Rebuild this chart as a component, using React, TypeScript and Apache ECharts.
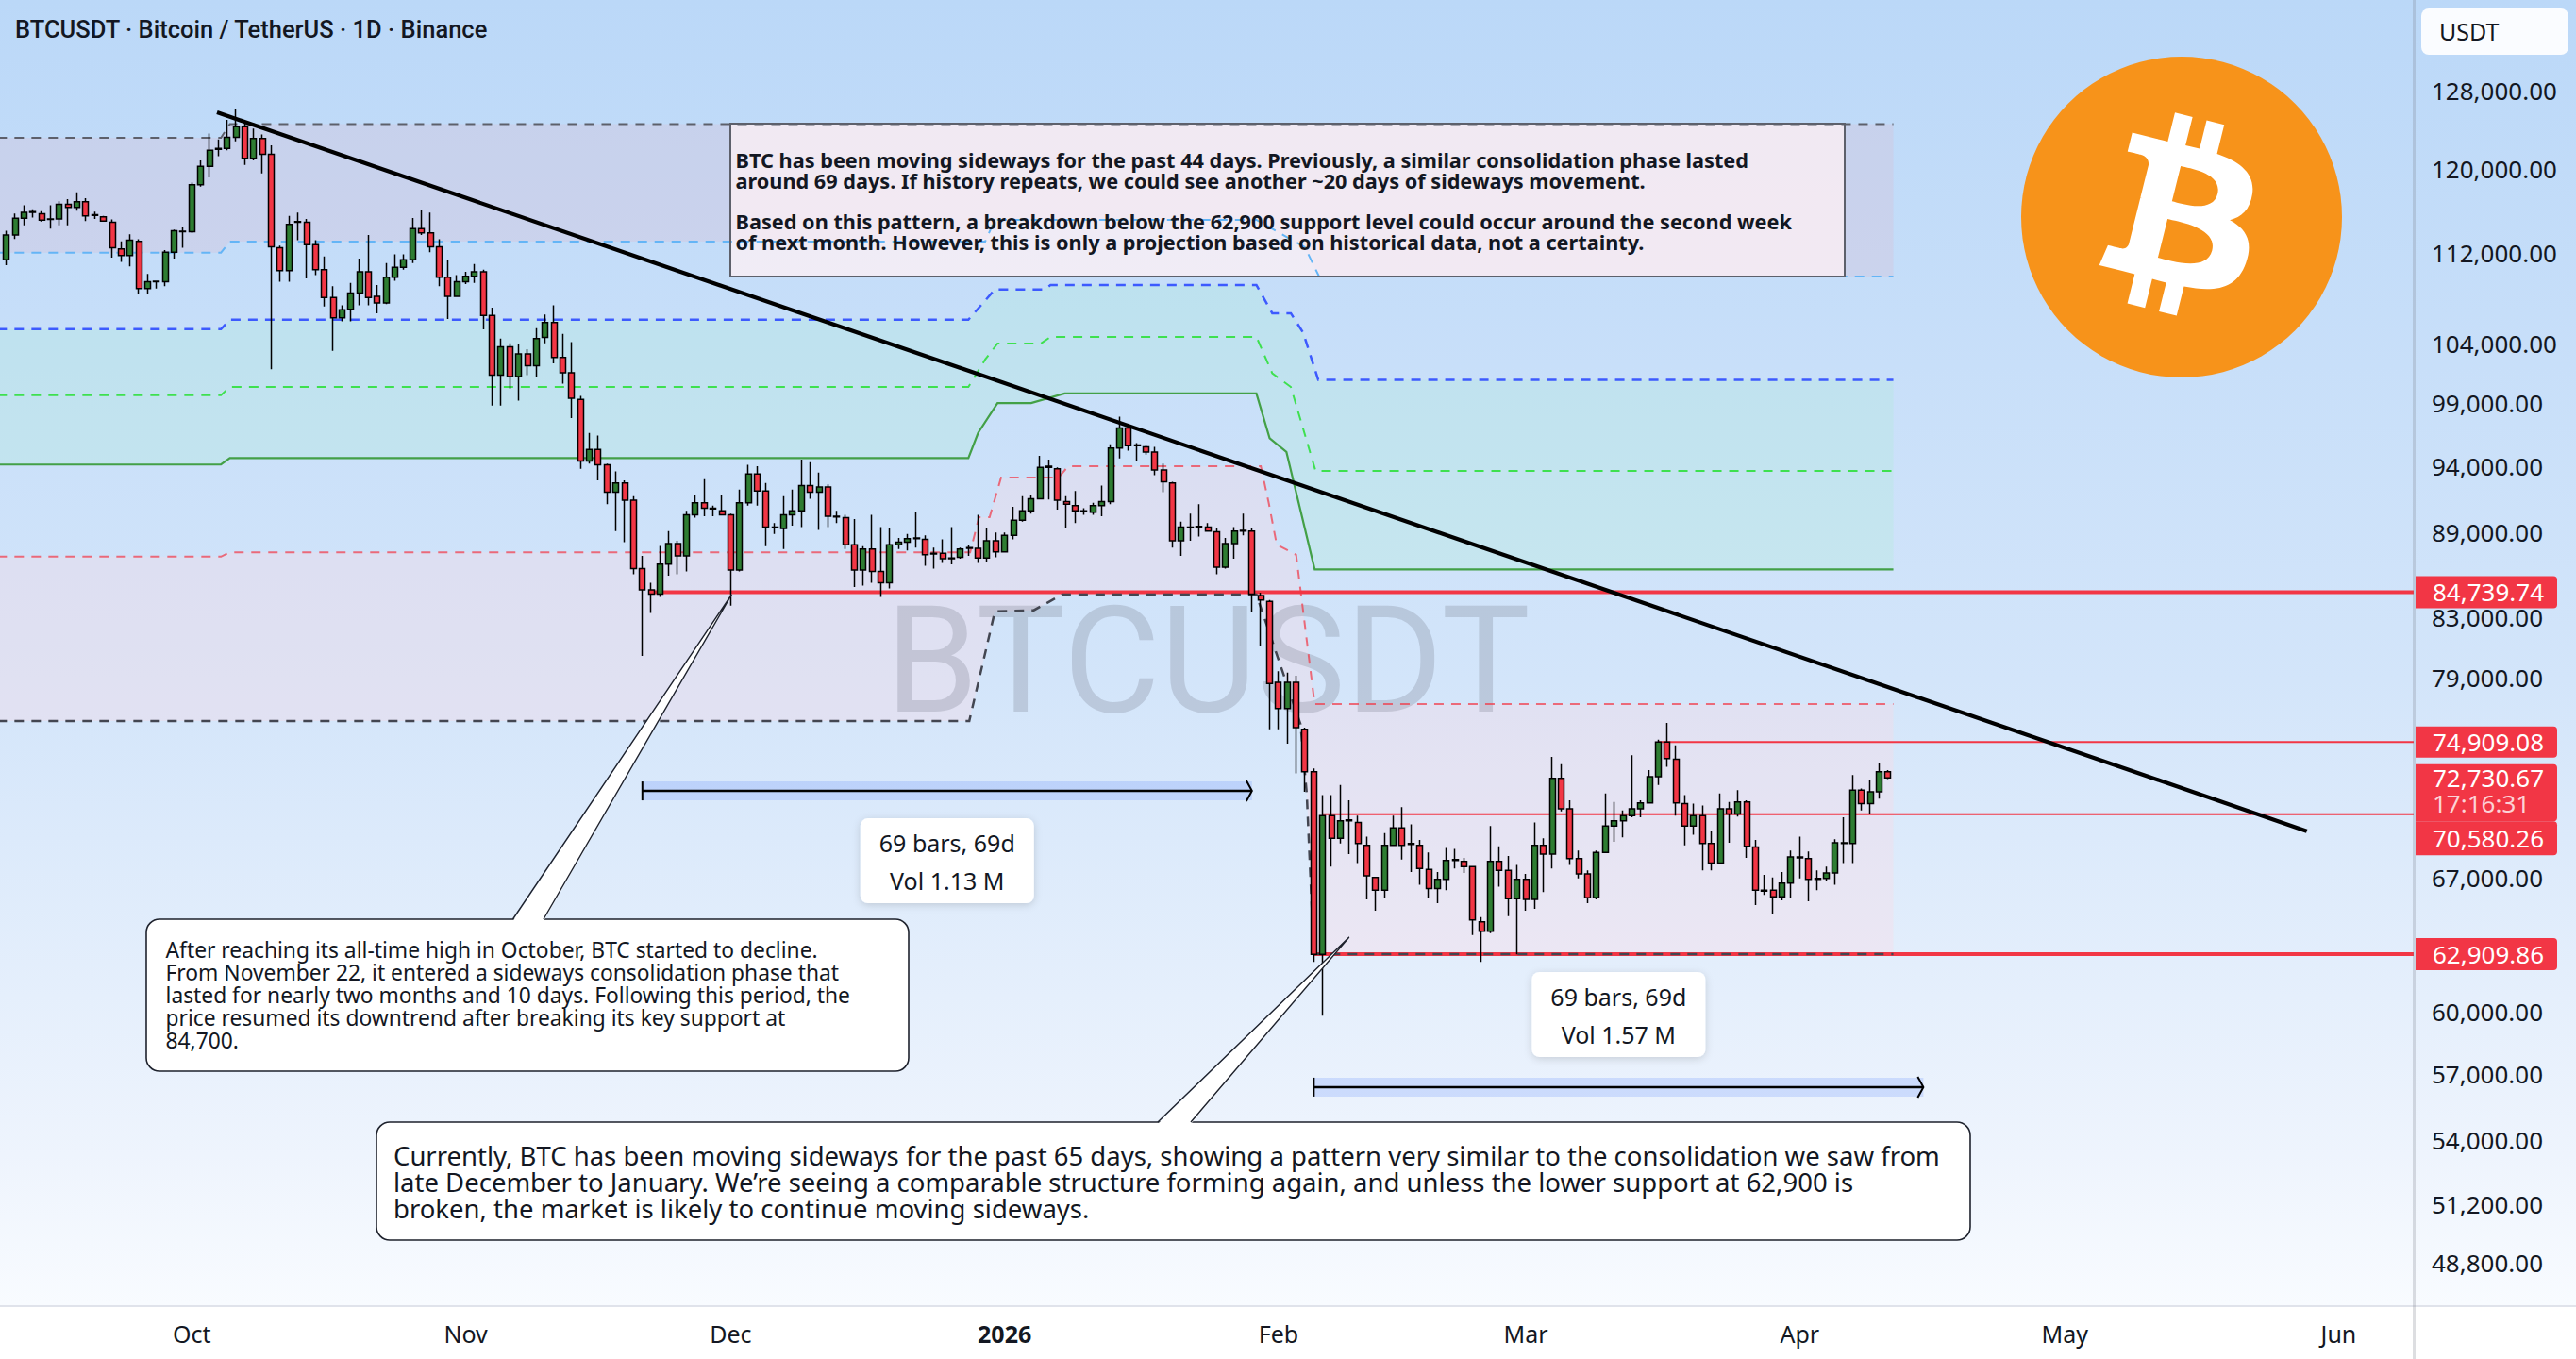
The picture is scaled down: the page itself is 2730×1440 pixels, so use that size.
import React, { useEffect, useRef } from 'react';
import * as echarts from 'echarts';

const W = 2730;
const H = 1440;

// ---------------- data ----------------
const dayCount = 273; // 2025-09-10 .. 2026-06-09
const monthNames = ['Jan', 'Feb', 'Mar', 'Apr', 'May', 'Jun', 'Jul', 'Aug', 'Sep', 'Oct', 'Nov', 'Dec'];
const categories: string[] = Array.from({ length: dayCount }, (_, i) =>
  new Date(Date.UTC(2025, 8, 10 + i)).toISOString().slice(0, 10)
);

// daily candles in thousands of USDT: [open, close, low, high]
const candles: number[][] = [
  [111.4, 113.7, 110.9, 114.1], [113.7, 115.28, 113.33, 115.72], [115.28, 115.83, 114.6, 116.5], [115.83, 115.9, 115.35, 116.13],
  [115.7, 115.1, 114.95, 115.95], [115.15, 115.2, 114.3, 116.5], [115.2, 116.6, 114.6, 116.9], [116.6, 116.3, 114.6, 117.1],
  [116.3, 116.85, 116.0, 117.75], [116.85, 115.5, 115.0, 117.2], [115.55, 115.6, 115.2, 115.9], [115.4, 115.0, 114.95, 115.5],
  [114.9, 112.5, 111.6, 115.15], [112.4, 111.8, 111.2, 113.1], [111.8, 113.2, 110.8, 113.75], [113.1, 108.8, 108.3, 113.3],
  [108.8, 109.4, 108.3, 110.1], [109.4, 109.45, 108.8, 109.5], [109.4, 112.1, 109.0, 112.3], [112.1, 114.1, 111.5, 114.2],
  [114.0, 114.05, 112.5, 114.5], [114.0, 118.5, 113.9, 118.7], [118.5, 120.3, 118.3, 120.9], [120.3, 121.9, 119.2, 123.6],
  [122.0, 122.1, 121.3, 123.0], [122.1, 123.2, 121.9, 125.0], [123.2, 124.3, 122.8, 126.1], [124.3, 121.1, 120.45, 124.8],
  [121.1, 123.1, 120.9, 124.1], [123.1, 121.5, 119.6, 123.5], [121.5, 112.6, 101.8, 122.4], [112.5, 110.4, 109.4, 112.7],
  [110.4, 114.7, 109.4, 115.5], [114.9, 114.95, 113.2, 115.8], [114.9, 112.8, 109.7, 115.2], [112.8, 110.5, 110.0, 113.2],
  [110.5, 108.0, 107.2, 111.7], [108.0, 106.2, 103.35, 109.0], [106.2, 106.9, 105.9, 107.3], [106.95, 108.4, 105.9, 109.3],
  [108.4, 110.3, 107.3, 111.5], [110.3, 108.0, 107.3, 113.7], [108.1, 107.5, 106.6, 109.1], [107.5, 109.8, 107.4, 111.1],
  [109.8, 110.7, 109.5, 111.9], [110.7, 111.4, 110.5, 111.9], [111.4, 114.3, 111.1, 115.3], [114.3, 113.9, 113.7, 116.1],
  [113.9, 112.6, 112.1, 115.8], [112.6, 109.8, 109.0, 113.3], [109.8, 108.1, 106.1, 111.4], [108.1, 109.4, 108.1, 110.0],
  [109.4, 109.9, 109.2, 110.3], [109.9, 110.3, 109.3, 111.0], [110.3, 106.4, 105.2, 110.5], [106.4, 101.3, 98.8, 107.1],
  [101.3, 103.7, 98.8, 104.4], [103.7, 101.2, 100.2, 104.0], [101.2, 103.1, 99.2, 103.9], [103.1, 102.1, 101.3, 103.5],
  [102.1, 104.4, 101.2, 105.3], [104.5, 105.8, 104.0, 106.5], [105.8, 102.8, 102.3, 107.3], [102.8, 101.5, 100.6, 104.8],
  [101.5, 99.4, 97.8, 104.1], [99.3, 94.4, 93.8, 99.6], [94.4, 95.3, 94.2, 96.6], [95.3, 94.1, 92.9, 96.4],
  [94.1, 92.0, 91.1, 94.2], [92.0, 92.7, 89.1, 93.6], [92.7, 91.4, 88.3, 92.9], [91.4, 86.4, 86.0, 91.7],
  [86.4, 84.9, 80.4, 87.3], [84.9, 84.6, 83.3, 85.4], [84.6, 86.72, 84.4, 88.03], [86.72, 88.2, 85.9, 89.1],
  [88.2, 87.3, 86.0, 88.4], [87.3, 90.3, 86.2, 90.6], [90.3, 91.2, 90.1, 91.8], [91.2, 90.8, 90.2, 93.0],
  [90.8, 90.75, 90.2, 91.0], [90.6, 90.3, 90.25, 91.8], [90.3, 86.3, 83.8, 90.4], [86.3, 91.2, 86.2, 92.2],
  [91.2, 93.4, 91.0, 94.1], [93.4, 92.1, 91.0, 94.0], [92.1, 89.4, 88.0, 92.7], [89.4, 89.35, 88.9, 89.7],
  [89.3, 90.3, 87.8, 91.7], [90.3, 90.6, 89.5, 92.2], [90.6, 92.5, 89.4, 94.5], [92.5, 92.0, 91.5, 94.3],
  [92.0, 92.4, 89.2, 93.5], [92.4, 90.2, 89.4, 92.6], [90.2, 90.15, 89.7, 90.6], [90.1, 88.1, 87.8, 90.3],
  [88.1, 86.3, 85.1, 90.0], [86.3, 87.8, 85.2, 88.0], [87.8, 86.2, 85.4, 90.3], [86.2, 85.4, 84.4, 89.4],
  [85.4, 88.1, 85.0, 89.3], [88.1, 88.3, 87.8, 88.6], [88.3, 88.55, 87.7, 88.9], [88.55, 88.6, 87.9, 90.5],
  [88.5, 87.4, 86.6, 88.8], [87.45, 87.5, 86.4, 87.9], [87.5, 87.1, 86.8, 88.5], [87.1, 87.15, 86.7, 89.4],
  [87.2, 87.8, 87.1, 87.9], [87.85, 87.9, 87.3, 88.05], [87.85, 87.15, 86.8, 90.3], [87.15, 88.4, 86.9, 89.3],
  [88.4, 87.6, 87.2, 89.0], [87.6, 88.8, 87.55, 89.0], [88.8, 89.9, 88.5, 90.9], [89.9, 90.6, 89.8, 91.7],
  [90.6, 91.5, 90.4, 91.8], [91.5, 93.9, 91.5, 94.8], [93.9, 94.0, 91.45, 94.5], [93.8, 91.4, 90.7, 93.9],
  [91.3, 91.1, 89.3, 91.7], [91.0, 90.6, 89.7, 92.1], [90.6, 90.55, 90.3, 90.8], [90.5, 91.0, 90.3, 91.2],
  [91.0, 91.3, 90.2, 92.5], [91.3, 95.4, 91.1, 95.7], [95.4, 97.0, 94.6, 97.9], [97.0, 95.6, 95.2, 97.3],
  [95.6, 95.65, 94.4, 95.8], [95.5, 95.1, 94.9, 95.6], [95.1, 93.7, 93.3, 95.5], [93.7, 92.8, 92.0, 94.2],
  [92.7, 88.4, 87.9, 92.8], [88.4, 89.4, 87.3, 89.8], [89.35, 89.4, 88.4, 90.4], [89.4, 89.45, 88.7, 91.1],
  [89.4, 89.1, 89.05, 89.7], [89.05, 86.5, 86.0, 89.3], [86.5, 88.2, 86.4, 88.6], [88.2, 89.1, 87.1, 89.4],
  [89.1, 89.15, 88.8, 90.4], [89.1, 84.6, 83.4, 89.3], [84.5, 84.2, 81.1, 84.7], [84.1, 78.6, 75.7, 84.2],
  [78.67, 77.0, 75.7, 79.4], [77.0, 78.67, 74.8, 79.3], [78.67, 75.8, 73.0, 79.1], [75.7, 73.1, 71.9, 75.8],
  [73.1, 62.9, 62.5, 73.3], [62.9, 70.5, 59.8, 71.7], [70.5, 69.2, 67.6, 71.7], [69.2, 70.2, 68.9, 72.3],
  [70.2, 70.25, 68.3, 71.4], [70.1, 68.9, 67.8, 70.5], [68.8, 67.1, 65.8, 69.3], [67.0, 66.3, 65.2, 67.05],
  [66.3, 68.8, 65.9, 69.5], [68.8, 69.8, 68.8, 70.5], [69.8, 68.8, 68.0, 71.0], [68.85, 68.9, 67.3, 70.0],
  [68.8, 67.5, 66.6, 69.1], [67.45, 66.4, 65.9, 68.4], [66.4, 66.9, 65.6, 67.3], [66.9, 67.95, 66.3, 68.65],
  [67.95, 68.0, 67.5, 68.6], [67.9, 67.6, 67.25, 68.1], [67.6, 64.7, 63.9, 67.65], [64.6, 64.1, 62.5, 64.85],
  [64.1, 67.9, 64.0, 69.9], [67.9, 67.4, 66.5, 68.75], [67.4, 65.85, 64.9, 68.2], [65.85, 66.9, 62.9, 67.7],
  [66.9, 65.8, 65.2, 67.2], [65.8, 68.8, 65.3, 70.1], [68.8, 68.3, 66.2, 69.2], [68.3, 72.7, 67.5, 74.0],
  [72.7, 70.9, 70.75, 73.55], [70.9, 68.05, 67.7, 71.4], [68.05, 67.2, 66.95, 68.5], [67.2, 65.9, 65.6, 67.4],
  [65.9, 68.4, 65.8, 68.5], [68.4, 69.9, 68.4, 71.8], [69.9, 70.2, 69.0, 71.3], [70.2, 70.5, 69.25, 70.8],
  [70.5, 70.9, 70.4, 74.1], [70.9, 71.25, 70.4, 71.4], [71.25, 72.8, 71.2, 73.2], [72.8, 74.9, 72.3, 75.05],
  [74.9, 73.9, 73.4, 76.1], [73.85, 71.25, 70.5, 74.7], [71.2, 69.9, 68.8, 71.7], [69.9, 70.5, 69.4, 71.2],
  [70.5, 68.9, 67.4, 71.1], [68.9, 67.8, 67.4, 69.6], [67.8, 70.9, 67.8, 71.8], [70.9, 70.6, 68.95, 71.3],
  [70.6, 71.3, 70.45, 72.0], [71.3, 68.75, 68.1, 71.4], [68.7, 66.3, 65.5, 69.1], [66.3, 66.25, 66.05, 67.15],
  [66.3, 65.95, 65.0, 67.0], [65.95, 66.7, 65.75, 67.3], [66.7, 68.15, 65.9, 68.5], [68.1, 68.15, 66.95, 69.3],
  [68.05, 66.9, 65.7, 68.45], [66.9, 66.95, 66.3, 67.4], [66.95, 67.25, 66.8, 67.6], [67.25, 68.95, 66.6, 69.15],
  [68.9, 68.95, 67.8, 70.4], [68.9, 72.0, 67.8, 72.9], [72.0, 71.2, 70.8, 72.1], [71.2, 71.9, 70.6, 72.6],
  [71.9, 73.1, 71.5, 73.6], [73.1, 72.73067, 72.65, 73.2],
];

const priceTicks = [128000, 120000, 112000, 104000, 99000, 94000, 89000, 83000, 79000, 67000, 60000, 57000, 54000, 51200, 48800];
const priceRange = [47085, 137952];

// indicator band breakpoints: [bar index, price in thousands]
const bandTop = [[-1, 123.16], [24.3, 123.16], [25.3, 124.55], [213.6, 124.55]];
const bandLightBlue = [[-1, 112.06], [24.3, 112.06], [25.3, 113.08], [110.8, 113.08], [111.9, 115.12], [141.5, 115.12], [147, 112.55], [148.6, 109.87], [213.6, 109.87]];
const bandBlue = [[-1, 105.21], [24.3, 105.21], [25.3, 106.04], [108.9, 106.04], [111.9, 108.71], [117.5, 108.71], [118.2, 109.11], [141.5, 109.11], [143.3, 106.6], [145.4, 106.6], [146.8, 104.9], [148.5, 100.92], [213.6, 100.92]];
const bandGreenDash = [[-1, 99.65], [24.3, 99.65], [25.3, 100.33], [108.9, 100.33], [110.8, 102.62], [112.2, 103.98], [117.1, 103.98], [118.2, 104.55], [141.5, 104.55], [143.3, 101.46], [145.4, 100.33], [148.2, 93.63], [213.6, 93.63]];
const bandGreen = [[-1, 94.12], [24.3, 94.12], [25.3, 94.63], [108.9, 94.63], [110, 96.6], [112.2, 99.01], [116, 99.01], [119.8, 99.79], [141.5, 99.79], [143, 96.18], [144.9, 95.1], [148.1, 86.34], [213.6, 86.34]];
const bandRedDash = [[-1, 87.25], [24.3, 87.25], [25.3, 87.56], [109.1, 87.56], [110.1, 90.13], [111.3, 90.13], [112.6, 93.12], [119.1, 93.12], [120.2, 93.99], [142.0, 93.99], [142.9, 91.19], [143.8, 88.13], [146, 87.38], [148.1, 77.28], [213.6, 77.28]];
const bandBottom = [[-1, 76.21], [109, 76.21], [111.9, 83.4], [116.3, 83.48], [119.5, 84.57], [141.5, 84.57], [146.5, 76.0], [147.2, 71.8], [147.9, 64.0], [148.2, 62.91], [213.6, 62.91]];

const trendLine = [[23.85, 125770], [260.4, 69610]];
const levelPrices = [84739.74, 74909.08, 70580.26, 62909.86];
const levelFrom = [73, 187, 149, 148];
const currentPrice = 72730.67;
const countdown = '17:16:31';
const rangeFrom = [72, 148];
const rangeTo = [141, 217];
const rangePrice = [71950, 56386];
const rangeBars = ['69 bars, 69d', '69 bars, 69d'];
const rangeVol = ['Vol 1.13 M', 'Vol 1.57 M'];
const calloutTip = [[82.1, 84570], [152, 63790]];

const titleText = 'BTCUSDT · Bitcoin / TetherUS · 1D · Binance';
const noteTop =
  'BTC has been moving sideways for the past 44 days. Previously, a similar consolidation phase lasted\n' +
  'around 69 days. If history repeats, we could see another ~20 days of sideways movement.\n\n' +
  'Based on this pattern, a breakdown below the 62,900 support level could occur around the second week\n' +
  'of next month. However, this is only a projection based on historical data, not a certainty.';
const noteLeft =
  'After reaching its all-time high in October, BTC started to decline.\n' +
  'From November 22, it entered a sideways consolidation phase that\n' +
  'lasted for nearly two months and 10 days. Following this period, the\n' +
  'price resumed its downtrend after breaking its key support at\n' +
  '84,700.';
const noteBottom =
  'Currently, BTC has been moving sideways for the past 65 days, showing a pattern very similar to the consolidation we saw from\n' +
  'late December to January. We\u2019re seeing a comparable structure forming again, and unless the lower support at 62,900 is\n' +
  'broken, the market is likely to continue moving sideways.';

// ---------------- styling ----------------
const TXT = '#131722';
const RED = '#f23645';
const LAV_TOP = 'rgba(218, 189, 208, 0.3)';
const LAV_LOW = 'rgba(255, 215, 225, 0.3)';
const TEAL = 'rgba(150, 245, 180, 0.15)';
const FONT = 'Noto Sans';

const BTC_B =
  'M46.103 27.444c0.637-4.258-2.605-6.547-7.038-8.074l1.438-5.768-3.511-0.875-1.4 5.616c-0.923-0.23-1.871-0.447-2.813-0.662l1.41-5.653-3.509-0.875-1.439 5.766c-0.764-0.174-1.514-0.346-2.242-0.527l0.004-0.018-4.842-1.209-0.934 3.75s2.605 0.597 2.55 0.634c1.422 0.355 1.679 1.296 1.636 2.042l-1.638 6.571c0.098 0.025 0.225 0.061 0.365 0.117-0.117-0.029-0.242-0.061-0.371-0.092l-2.296 9.205c-0.174 0.432-0.615 1.08-1.609 0.834 0.035 0.051-2.552-0.637-2.552-0.637l-1.743 4.019 4.569 1.139c0.85 0.213 1.683 0.436 2.503 0.646l-1.453 5.834 3.507 0.875 1.439-5.772c0.958 0.26 1.888 0.5 2.798 0.726l-1.434 5.745 3.511 0.875 1.453-5.823c5.987 1.133 10.489 0.676 12.384-4.739 1.527-4.36-0.076-6.875-3.226-8.515 2.294-0.529 4.022-2.038 4.483-5.155zM38.081 38.693c-1.085 4.36-8.426 2.003-10.806 1.412l1.928-7.729c2.38 0.594 10.012 1.77 8.878 6.317zM39.167 27.381c-0.99 3.966-7.1 1.951-9.082 1.457l1.748-7.007c1.982 0.494 8.365 1.416 7.334 5.55z';
echarts.graphic.registerShape('btcB', echarts.graphic.extendPath(BTC_B, {}));

const fmtPrice = (v: number) =>
  (Math.round(v * 100) / 100).toLocaleString('en-US', { minimumFractionDigits: 2, maximumFractionDigits: 2 });

const lnK = (k: number) => Math.log(k * 1000);

function txt(x: number, y: number, text: string, o: any = {}) {
  const align = o.align || 'left';
  const valign = o.valign || 'middle';
  return {
    type: 'text',
    x,
    y,
    z: o.z ?? 40,
    silent: true,
    style: {
      text,
      fill: o.fill || TXT,
      fontSize: o.size || 24,
      fontFamily: o.family || FONT,
      fontWeight: o.weight || 'normal',
      lineHeight: o.lh,
      align,
      textAlign: align,
      verticalAlign: valign,
      textVerticalAlign: valign,
    },
  };
}

function buildOption(): any {
  const pt = (api: any, p: number[]) => api.coord([p[0], lnK(p[1])]);
  const poly = (api: any, up: number[][], lo: number[][], fill: string) => ({
    type: 'polygon',
    silent: true,
    shape: { points: up.map((p) => pt(api, p)).concat(lo.slice().reverse().map((p) => pt(api, p))) },
    style: { fill, stroke: 'none' },
  });
  const pline = (api: any, arr: number[][], stroke: string, lineWidth: number, dash?: number[]) => ({
    type: 'polyline',
    silent: true,
    shape: { points: arr.map((p) => pt(api, p)) },
    style: { stroke, lineWidth, lineDash: dash, fill: 'none' },
  });
  const anchor = [[0, Math.log(80000)]];
  const labelText = (text: string, x: number, y: number) => ({
    type: 'text',
    style: { text, x, y, fill: TXT, fontSize: 25, fontFamily: FONT, align: 'center', textAlign: 'center', verticalAlign: 'middle', textVerticalAlign: 'middle' },
  });

  return {
    animation: false,
    grid: { left: 2, top: 0, width: 2556, height: 1384 },
    xAxis: [
      {
        type: 'category',
        data: categories,
        boundaryGap: true,
        axisLine: { show: false },
        axisTick: { show: false },
        splitLine: { show: false },
        axisLabel: {
          interval: (_i: number, v: string) => v.endsWith('-01'),
          formatter: (v: string) => {
            const [y, m] = v.split('-');
            return m === '01' ? `{yr|${y}}` : monthNames[+m - 1];
          },
          margin: 16,
          fontSize: 25,
          color: TXT,
          fontFamily: FONT,
          rich: { yr: { fontSize: 25, fontWeight: 'bold', color: TXT, fontFamily: FONT } },
        },
      },
      { type: 'value', min: -0.5, max: dayCount - 0.5, show: false },
    ],
    yAxis: {
      type: 'value',
      position: 'right',
      min: Math.log(priceRange[0]),
      max: Math.log(priceRange[1]),
      axisLine: { show: false },
      axisTick: { show: false },
      splitLine: { show: false },
      axisLabel: {
        customValues: priceTicks.map((t) => Math.log(t)),
        formatter: (v: number) => fmtPrice(Math.exp(v)),
        margin: 19,
        fontSize: 26,
        color: TXT,
        fontFamily: FONT,
      },
    },
    series: [
      {
        type: 'candlestick',
        xAxisIndex: 0,
        yAxisIndex: 0,
        z: 4,
        barWidth: 6.5,
        data: candles.map((c) => [lnK(c[0]), lnK(c[1]), lnK(c[2]), lnK(c[3])]),
        itemStyle: { color: '#2e7d32', color0: RED, borderColor: '#000', borderColor0: '#000', borderWidth: 1.5 },
      },
      {
        type: 'custom',
        xAxisIndex: 1,
        yAxisIndex: 0,
        z: 1,
        silent: true,
        data: anchor,
        renderItem: (_p: any, api: any) => ({
          type: 'group',
          children: [
            poly(api, bandTop, bandLightBlue, LAV_TOP),
            poly(api, bandBlue, bandGreen, TEAL),
            poly(api, bandRedDash, bandBottom, LAV_LOW),
          ],
        }),
      },
      {
        type: 'custom',
        xAxisIndex: 1,
        yAxisIndex: 0,
        z: 3,
        silent: true,
        data: anchor,
        renderItem: (_p: any, api: any) => ({
          type: 'group',
          children: levelPrices.map((p, i) => {
            const a = api.coord([levelFrom[i], Math.log(p)]);
            const b = api.coord([dayCount - 0.5, Math.log(p)]);
            return {
              type: 'line',
              silent: true,
              shape: { x1: a[0], y1: a[1], x2: b[0], y2: b[1] },
              style: { stroke: RED, lineWidth: i === 0 || i === 3 ? 4 : 2 },
            };
          }),
        }),
      },
      {
        type: 'custom',
        xAxisIndex: 1,
        yAxisIndex: 0,
        z: 3.5,
        silent: true,
        data: anchor,
        renderItem: (_p: any, api: any) => ({
          type: 'group',
          children: [
            pline(api, bandTop, '#5d606b', 2, [10, 8]),
            pline(api, bandLightBlue, '#64b5f6', 2, [10, 8]),
            pline(api, bandBlue, '#3d5afe', 2.5, [10, 8]),
            pline(api, bandGreenDash, '#3ee04f', 2, [10, 8]),
            pline(api, bandGreen, '#43a047', 2.2),
            pline(api, bandRedDash, 'rgba(242,54,69,0.7)', 2, [10, 8]),
            pline(api, bandBottom, '#434651', 2.5, [10, 8]),
          ],
        }),
      },
      {
        type: 'custom',
        xAxisIndex: 1,
        yAxisIndex: 0,
        z: 6,
        silent: true,
        data: anchor,
        renderItem: (_p: any, api: any) => {
          const a = api.coord([trendLine[0][0], Math.log(trendLine[0][1])]);
          const b = api.coord([trendLine[1][0], Math.log(trendLine[1][1])]);
          const children: any[] = [
            { type: 'line', shape: { x1: a[0], y1: a[1], x2: b[0], y2: b[1] }, style: { stroke: '#000', lineWidth: 4.2 } },
          ];
          rangeFrom.forEach((f, i) => {
            const s = api.coord([f, Math.log(rangePrice[i])]);
            const e = api.coord([rangeTo[i], Math.log(rangePrice[i])]);
            const hh = 10;
            children.push(
              { type: 'rect', shape: { x: s[0], y: s[1] - hh, width: e[0] - s[0], height: hh * 2 }, style: { fill: 'rgba(41,98,255,0.16)' } },
              { type: 'line', shape: { x1: s[0], y1: s[1], x2: e[0], y2: e[1] }, style: { stroke: '#000', lineWidth: 2.5 } },
              { type: 'line', shape: { x1: s[0], y1: s[1] - hh, x2: s[0], y2: s[1] + hh }, style: { stroke: '#000', lineWidth: 2 } },
              { type: 'polyline', shape: { points: [[e[0] - 6, e[1] - 11], [e[0], e[1]], [e[0] - 6, e[1] + 11]] }, style: { stroke: '#000', lineWidth: 2, fill: 'none' } }
            );
            const cx = (s[0] + e[0]) / 2;
            const top = i === 0 ? s[1] + 29 : s[1] - 122;
            children.push(
              {
                type: 'rect',
                shape: { x: cx - 92, y: top, width: 184, height: 90, r: 8 },
                style: { fill: '#ffffff', shadowBlur: 8, shadowColor: 'rgba(0,0,0,0.15)', shadowOffsetY: 2 },
              },
              labelText(rangeBars[i], cx, top + 26),
              labelText(rangeVol[i], cx, top + 66)
            );
          });
          return { type: 'group', children };
        },
      },
    ],
  };
}

function buildGraphic(chart: any): any[] {
  const px = (x: number, price: number) => chart.convertToPixel({ seriesIndex: 1 }, [x, Math.log(price)]);
  const yOf = (price: number) => px(0, price)[1];
  const g: any[] = [];

  g.push({
    type: 'rect',
    z: -100,
    silent: true,
    shape: { x: 0, y: 0, width: W, height: H },
    style: {
      fill: new echarts.graphic.LinearGradient(0, 0, 0, 1, [
        { offset: 0, color: '#bbd8f8' },
        { offset: 0.5, color: '#d3e5fa' },
        { offset: 0.85, color: '#eef4fd' },
        { offset: 0.96, color: '#f8fbff' },
        { offset: 1, color: '#ffffff' },
      ]),
    },
  });
  g.push({ type: 'rect', z: -99, silent: true, shape: { x: 0, y: 1385, width: W, height: H - 1385 }, style: { fill: '#ffffff' } });
  g.push({ type: 'line', z: 30, silent: true, shape: { x1: 0, y1: 1384, x2: W, y2: 1384 }, style: { stroke: '#e0e3eb', lineWidth: 2 } });
  g.push({ type: 'line', z: 30, silent: true, shape: { x1: 2558.5, y1: 0, x2: 2558.5, y2: H }, style: { stroke: 'rgba(120,123,134,0.25)', lineWidth: 3 } });

  // top annotation box (above the band fills, below the band lines)
  g.push({ type: 'rect', z: 2, silent: true, shape: { x: 774, y: 131, width: 1181, height: 162 }, style: { fill: 'rgba(255,240,244,0.75)' } });
  g.push({ type: 'rect', z: 35, silent: true, shape: { x: 774, y: 131, width: 1181, height: 162 }, style: { fill: 'none', stroke: '#5d606b', lineWidth: 2 } });
  g.push(txt(779.5, 158.5, noteTop, { valign: 'top', size: 21.7, weight: 'bold', lh: 21.8 }));

  // watermark
  g.push(txt(1280, 700, 'BTCUSDT', { align: 'center', size: 158, family: 'Roboto', fill: 'rgba(110,115,130,0.25)', z: 1.5 }));

  // callouts
  const callout = (bx: number, by: number, bw: number, bh: number, b1: number, b2: number, tip: number[]) => {
    g.push({ type: 'rect', z: 36, silent: true, shape: { x: bx, y: by, width: bw, height: bh, r: 14 }, style: { fill: '#ffffff', stroke: '#1e222d', lineWidth: 1.6 } });
    g.push({ type: 'polygon', z: 37, silent: true, shape: { points: [[b1, by + 2], [tip[0], tip[1]], [b2, by + 2]] }, style: { fill: '#ffffff', stroke: 'none' } });
    g.push({ type: 'polyline', z: 37, silent: true, shape: { points: [[b1, by], [tip[0], tip[1]], [b2, by]] }, style: { fill: 'none', stroke: '#1e222d', lineWidth: 1.4 } });
  };
  callout(155, 974, 808, 161, 543.5, 576, px(calloutTip[0][0], calloutTip[0][1]));
  g.push(txt(175.5, 995, noteLeft, { valign: 'top', size: 22.8, lh: 23.8, z: 38 }));
  callout(399, 1189, 1689, 125, 1227, 1262, px(calloutTip[1][0], calloutTip[1][1]));
  g.push(txt(417, 1210, noteBottom, { valign: 'top', size: 27.5, lh: 28, z: 38 }));

  // bitcoin logo
  g.push({ type: 'circle', z: 20, silent: true, shape: { cx: 2312, cy: 230, r: 170 }, style: { fill: '#f7931a' } });
  g.push({ type: 'btcB', z: 21, silent: true, x: 2142, y: 60, scaleX: 5.3125, scaleY: 5.3125, style: { fill: '#ffffff' } });

  // title
  g.push(txt(16, 31, titleText, { size: 25.5, family: 'Roboto', weight: 500 }));

  // price scale header
  g.push({ type: 'rect', z: 40, silent: true, shape: { x: 2566, y: 9, width: 156, height: 49, r: 8 }, style: { fill: 'rgba(255,255,255,0.92)' } });
  g.push(txt(2585, 33, 'USDT', { size: 25, z: 41 }));

  // price badges
  const badge = (y: number, h: number) =>
    g.push({ type: 'rect', z: 45, silent: true, shape: { x: 2560, y, width: 150, height: h, r: [0, 4, 4, 0] }, style: { fill: RED } });
  const bt = (y: number, s: string, fill = '#ffffff') => g.push(txt(2578, y, s, { size: 26, fill, z: 46 }));

  const y0 = yOf(levelPrices[0]);
  badge(y0 - 17, 34);
  bt(y0, fmtPrice(levelPrices[0]));
  const y1 = yOf(levelPrices[1]);
  badge(y1 - 16.5, 33);
  bt(y1, fmtPrice(levelPrices[1]));
  const cy = yOf(currentPrice);
  badge(cy - 14.5, 60.5);
  bt(cy, fmtPrice(currentPrice));
  bt(cy + 27, countdown, 'rgba(255,255,255,0.78)');
  badge(cy + 46, 36);
  bt(cy + 64, fmtPrice(levelPrices[2]));
  const y3 = yOf(levelPrices[3]);
  badge(y3 - 17, 34);
  bt(y3, fmtPrice(levelPrices[3]));

  return g;
}

export default function App() {
  const ref = useRef<HTMLDivElement>(null);
  useEffect(() => {
    document.body.style.margin = '0';
    const chart = echarts.init(ref.current as HTMLDivElement, null, { renderer: 'svg', width: W, height: H });
    chart.setOption(buildOption());
    chart.setOption({ graphic: buildGraphic(chart) });
    return () => chart.dispose();
  }, []);
  return <div ref={ref} style={{ width: W, height: H, position: 'absolute', left: 0, top: 0 }} />;
}
